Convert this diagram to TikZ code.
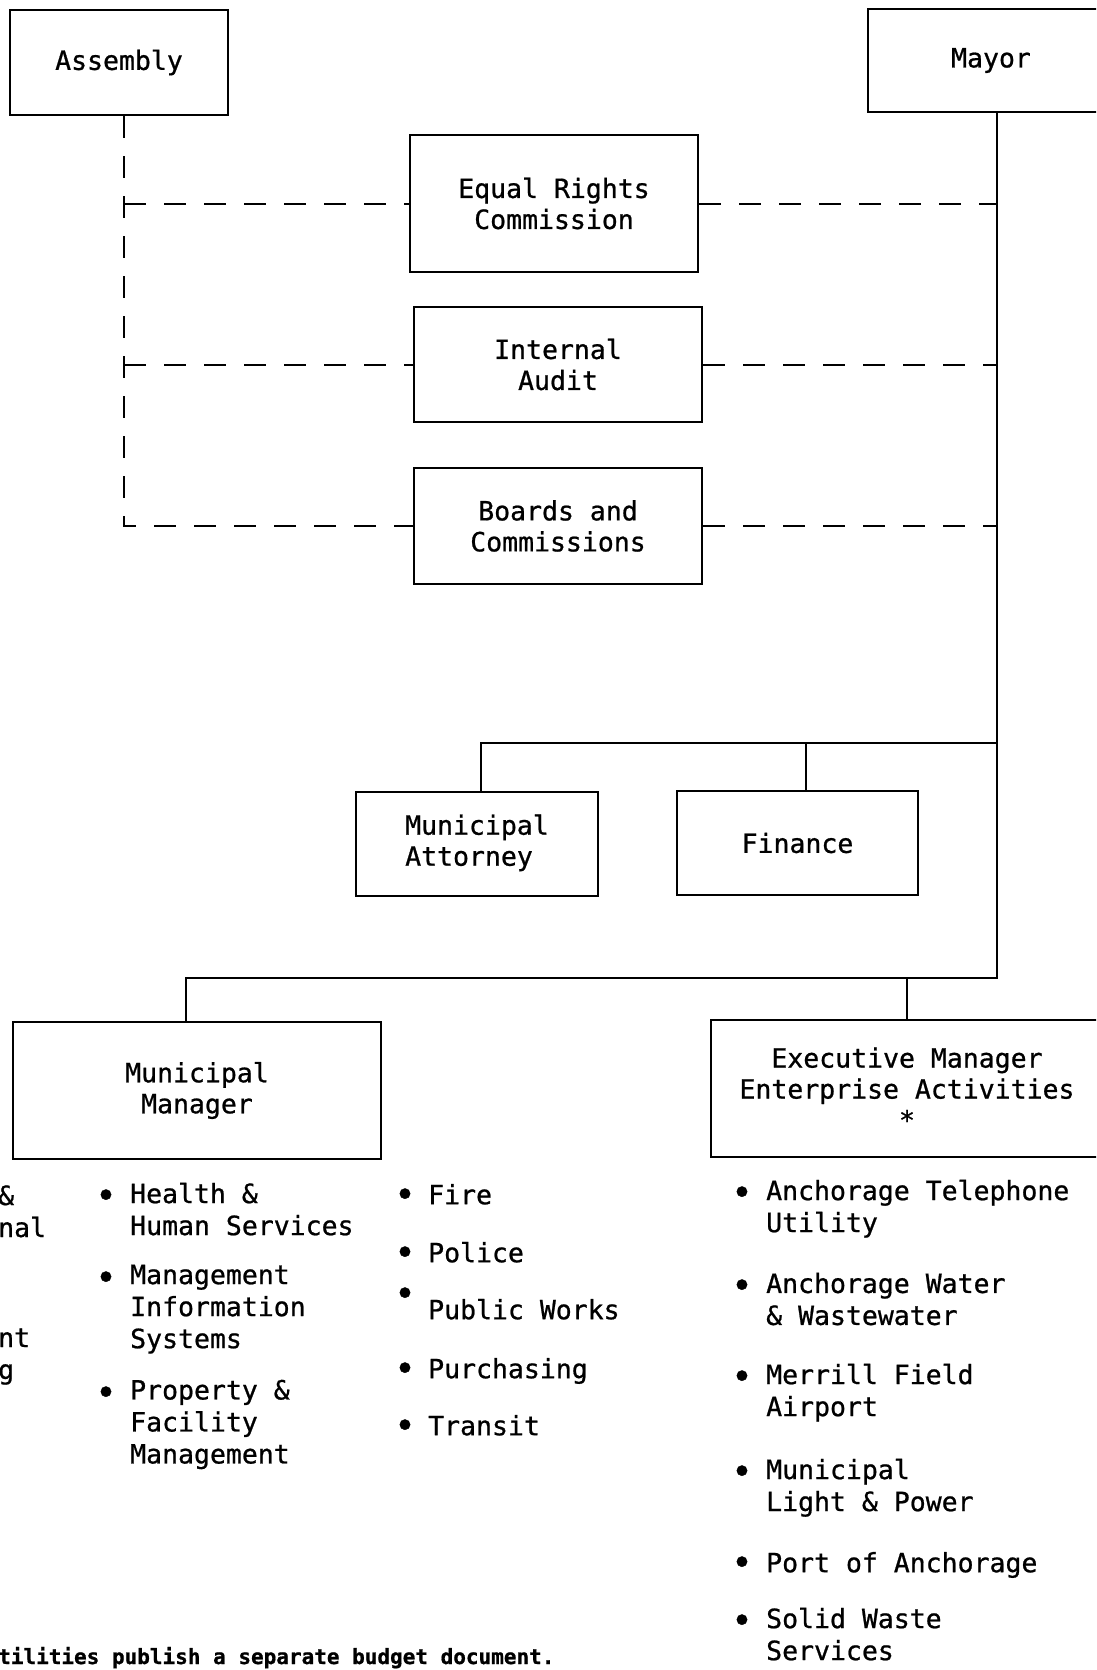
\documentclass[tikz,border=0pt]{standalone}
\usepackage{fontspec}
\setmonofont{DejaVu Sans Mono}[FakeBold=0.8]

\newcommand{\boxfont}{\fontsize{26.5}{31}\selectfont\ttfamily}
\newcommand{\listfont}{\fontsize{26.5}{32}\selectfont\ttfamily}
\newcommand{\dotfont}{\fontsize{36}{36}\selectfont\ttfamily}
\newcommand{\notefont}{\fontsize{21}{25}\selectfont\ttfamily\bfseries}

\tikzset{
  office/.style={draw, line width=2pt, font=\boxfont, align=center, inner sep=0pt},
  link/.style={line width=2pt},
  liaison/.style={line width=2pt, dash pattern=on 22pt off 18pt},
  entry/.style={anchor=north west, yshift=22.4pt, inner sep=0pt, align=left, font=\listfont, execute at begin node=\strut},
  dot/.style={anchor=base, yshift=-3pt, inner sep=0pt, font=\dotfont},
  frag/.style={anchor=base west, inner sep=0pt, font=\listfont}
}

\begin{document}
\begin{tikzpicture}[x=1pt,y=-1pt]
        \useasboundingbox (0,0) rectangle (1096,1670);
        \clip (0,0) rectangle (1096,1670);

        % top row
        \node[office, minimum width=218pt, minimum height=105pt] (assembly) at (119,62.5) {Assembly};
        \node[office, minimum width=246pt, minimum height=103pt] (mayor) at (991,60.5) {Mayor};

        % offices shared by Assembly and Mayor
        \node[office, minimum width=288pt, minimum height=137pt] (eqrights) at (554,203.5) {Equal Rights\\Commission};
        \node[office, minimum width=288pt, minimum height=115pt] (audit) at (558,364.5) {Internal\\Audit};
        \node[office, minimum width=288pt, minimum height=116pt] (boards) at (558,526) {Boards and\\Commissions};

        % departments under the Mayor
        \node[office, minimum width=242pt, minimum height=104pt] (attorney) at (477,844) {\begin{tabular}{@{}l@{}}Municipal\\Attorney\end{tabular}};
        \node[office, minimum width=241pt, minimum height=104pt] (finance) at (797.5,843) {Finance};
        \node[office, minimum width=368pt, minimum height=137pt] (mgr) at (197,1090.5) {Municipal\\Manager};
        \node[office, minimum width=392pt, minimum height=137pt] (exec) at (907,1088.5) {Executive Manager\\Enterprise Activities\\*};

        \coordinate (spine) at (997,978);
        \coordinate (tie) at (997,743);
        \coordinate (jatt) at (481,743);
        \coordinate (jmgr) at (186,978);
        \coordinate (liaison) at (124,526);

        % solid lines
        \draw[link] (mayor.south -| spine) -- (spine) -- (jmgr) -- (jmgr |- mgr.north);
        \draw[link] (exec.north) -- (exec.north |- spine);
        \draw[link] (tie) -- (jatt) -- (jatt |- attorney.north);
        \draw[link] ([xshift=8.5pt]finance.north) -- ([xshift=8.5pt]finance.north |- tie);

        % dashed lines
        \draw[liaison] (assembly.south -| liaison) -- (liaison) -- (boards.west);
        \draw[liaison] (eqrights.west -| liaison) -- (eqrights.west);
        \draw[liaison] (audit.west -| liaison) -- (audit.west);
        \draw[liaison] (eqrights.east) -- (eqrights.east -| spine);
        \draw[liaison] (audit.east) -- (audit.east -| spine);
        \draw[liaison] (boards.east) -- (boards.east -| spine);

        % cut-off column
        \node[frag] (fragA) at (-2,1205) {\&};
        \node[frag] (fragB) at (-2,1237) {nal};
        \node[frag] (fragC) at (-2,1347) {nt};
        \node[frag] (fragD) at (-2,1379) {g};

        % Municipal Manager column 1
        \node[dot] (dhhs) at (106,1205) {\textbullet};
        \node[entry] (hhs) at (130,1205) {Health \&\\Human Services};
        \node[dot] (dmis) at (106,1287) {\textbullet};
        \node[entry] (mis) at (130,1287) {Management\\Information\\Systems};
        \node[dot] (dpfm) at (106,1402) {\textbullet};
        \node[entry] (pfm) at (130,1402) {Property \&\\Facility\\Management};

        % Municipal Manager column 2
        \node[dot] (dfire) at (405,1204) {\textbullet};
        \node[entry] (fire) at (428,1204) {Fire};
        \node[dot] (dpolice) at (405,1262) {\textbullet};
        \node[entry] (police) at (428,1262) {Police};
        \node[dot] (dworks) at (405,1303) {\textbullet};
        \node[entry] (works) at (428,1319) {Public Works};
        \node[dot] (dpurch) at (405,1378) {\textbullet};
        \node[entry] (purch) at (428,1378) {Purchasing};
        \node[dot] (dtransit) at (405,1435) {\textbullet};
        \node[entry] (transit) at (428,1435) {Transit};

        % enterprise activities
        \node[dot] (datu) at (742,1202) {\textbullet};
        \node[entry] (atu) at (766,1202) {Anchorage Telephone\\Utility};
        \node[dot] (dawwu) at (742,1295) {\textbullet};
        \node[entry] (awwu) at (766,1295) {Anchorage Water\\\& Wastewater};
        \node[dot] (dmerrill) at (742,1386) {\textbullet};
        \node[entry] (merrill) at (766,1386) {Merrill Field\\Airport};
        \node[dot] (dmlp) at (742,1481) {\textbullet};
        \node[entry] (mlp) at (766,1481) {Municipal\\Light \& Power};
        \node[dot] (dport) at (742,1572) {\textbullet};
        \node[entry] (port) at (766,1572) {Port of Anchorage};
        \node[dot] (dsws) at (742,1630) {\textbullet};
        \node[entry] (sws) at (766,1630) {Solid Waste\\Services};

        % footnote
        \node[anchor=base west, inner sep=0pt, font=\notefont] (note) at (-2,1664) {tilities publish a separate budget document.};
\end{tikzpicture}
\end{document}
